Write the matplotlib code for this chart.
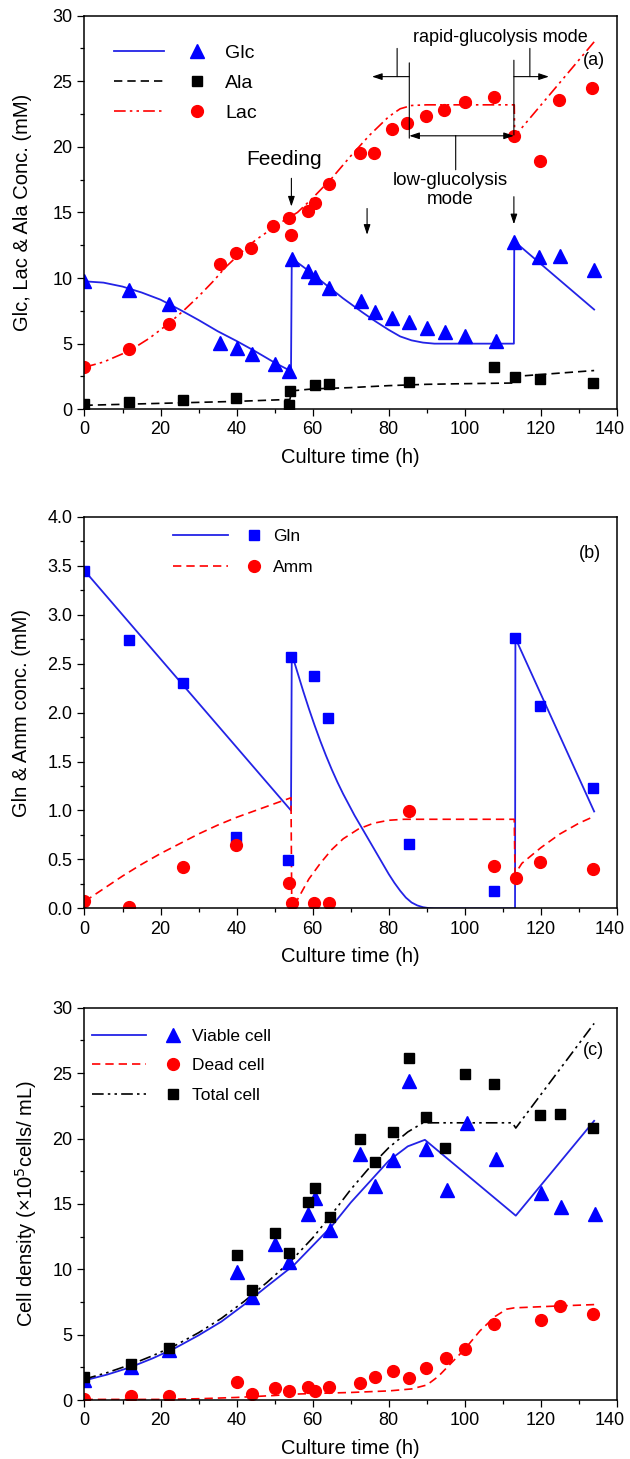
import matplotlib
matplotlib.use('Agg')
import matplotlib.pyplot as plt
from matplotlib.lines import Line2D
from matplotlib.legend_handler import HandlerBase
from matplotlib.ticker import MultipleLocator, FormatStrFormatter
from matplotlib.transforms import ScaledTranslation

plt.rcParams['font.family'] = ['Liberation Sans', 'DejaVu Sans']

# ---------------- Panel (a) data ----------------
glc_t = [0, 11.8, 22.2, 35.7, 40.2, 44.1, 50, 53.9, 54.6, 58.7, 60.6, 64.3, 72.7, 76.4,
         80.9, 85.3, 90.1, 94.9, 100.1, 108.1, 112.9, 119.5, 125, 134]
glc_v = [9.75, 9.1, 8.05, 5.06, 4.68, 4.18, 3.42, 2.91, 11.47, 10.5, 10.1, 9.24, 8.23, 7.42,
         6.99, 6.66, 6.2, 5.85, 5.57, 5.19, 12.78, 11.6, 11.7, 10.6]

ala_t = [0, 11.8, 25.9, 39.9, 53.9, 54.1, 60.5, 64.3, 85.3, 107.6, 113.1, 119.8, 133.7]
ala_v = [0.41, 0.53, 0.71, 0.89, 0.35, 1.37, 1.85, 1.95, 2.1, 3.24, 2.43, 2.3, 1.97]

lac_t = [0, 11.8, 22.2, 35.7, 39.9, 43.9, 49.6, 53.9, 54.4, 58.7, 60.5, 64.3, 72.4, 76.1,
         80.9, 84.9, 89.9, 94.6, 100.1, 107.8, 112.8, 119.8, 124.7, 133.5]
lac_v = [3.24, 4.56, 6.48, 11.09, 11.9, 12.3, 13.93, 14.6, 13.3, 15.12, 15.75, 17.16, 19.52, 19.52,
         21.35, 21.8, 22.36, 22.82, 23.38, 23.83, 20.79, 18.93, 23.58, 24.52]

glc_fit_t = [0, 5, 10, 15, 20, 25, 30, 35, 40, 45, 50, 54.3, 54.5, 58.7, 64.3, 68, 73, 76.5,
             80, 83, 86, 89, 92, 112.9, 113.0, 134]
glc_fit_v = [9.75, 9.65, 9.35, 8.9, 8.35, 7.6, 6.8, 5.95, 5.2, 4.4, 3.55, 2.9, 11.5, 10.6, 9.3,
             8.45, 7.4, 6.7, 6.05, 5.55, 5.25, 5.08, 5.0, 5.0, 12.8, 7.6]

ala_fit_t = [0, 20, 40, 54, 54.5, 60, 70, 80, 90, 100, 113, 113.2, 134]
ala_fit_v = [0.3, 0.45, 0.6, 0.75, 1.4, 1.55, 1.65, 1.8, 1.9, 1.95, 2.0, 2.5, 2.95]

lac_fit_t = [0, 5, 11.8, 17, 22, 26, 30, 34, 37, 41, 45, 49, 52, 56, 60, 65, 70, 75, 80, 83,
             86, 90, 113, 113.1, 134]
lac_fit_v = [3.2, 3.6, 4.45, 5.4, 6.5, 7.5, 8.6, 9.8, 10.8, 11.9, 12.9, 13.7, 14.3, 15.0, 16.1,
             17.6, 19.3, 20.9, 22.3, 22.9, 23.15, 23.2, 23.2, 20.8, 28.0]

# ---------------- Panel (b) data ----------------
gln_t = [0, 11.8, 25.8, 39.8, 53.6, 54.3, 60.4, 64.1, 85.2, 107.8, 113.2, 119.7, 133.8]
gln_v = [3.45, 2.74, 2.30, 0.73, 0.49, 2.57, 2.37, 1.94, 0.66, 0.18, 2.76, 2.07, 1.23]

amm_t = [0, 11.8, 25.8, 39.8, 53.8, 54.5, 60.4, 64.3, 85.2, 107.8, 113.4, 119.7, 133.8]
amm_v = [0.075, 0.017, 0.42, 0.65, 0.26, 0.05, 0.05, 0.05, 0.99, 0.43, 0.31, 0.47, 0.40]

gln_fit_t = [0, 54.3, 54.5, 56, 57.5, 59, 60.5, 62, 63.5, 65, 66.5, 68, 69.5, 71, 72.5, 74,
             75.5, 77, 78.5, 80, 81.5, 83, 84.5, 86, 87.5, 89, 90.5, 92, 113.2, 113.3, 134]
gln_fit_v = [3.45, 1.0, 2.6, 2.41, 2.22, 2.04, 1.87, 1.71, 1.56, 1.42, 1.29, 1.17, 1.06, 0.95,
             0.85, 0.75, 0.65, 0.55, 0.45, 0.35, 0.26, 0.18, 0.11, 0.06, 0.03, 0.012, 0.003,
             0.0, 0.0, 2.76, 0.99]

amm_fit_t = [0, 5, 10, 15, 20, 25, 30, 35, 40, 45, 50, 54.3, 54.5, 56, 59, 62, 65, 68, 72,
             76, 80, 84, 113, 113.2, 115, 120, 125, 130, 134]
amm_fit_v = [0.07, 0.2, 0.33, 0.45, 0.56, 0.66, 0.76, 0.85, 0.93, 1.0, 1.07, 1.13, 0.0, 0.09,
             0.3, 0.46, 0.6, 0.71, 0.81, 0.87, 0.9, 0.91, 0.91, 0.35, 0.46, 0.62, 0.76, 0.87, 0.94]

# ---------------- Panel (c) data ----------------
via_t = [0, 12.1, 22.2, 40.2, 44.1, 50.2, 53.9, 58.8, 60.7, 64.6, 72.5, 76.5, 81, 85.2,
         89.9, 95.2, 100.5, 108.1, 120, 125.4, 134.2]
via_v = [1.53, 2.54, 3.81, 9.79, 7.88, 11.95, 10.55, 14.24, 15.46, 13.02, 18.83, 16.35, 18.32,
         24.4, 19.2, 16.1, 21.15, 18.45, 15.84, 14.75, 14.19]

tot_t = [0, 12.1, 22.2, 40.2, 44.1, 50.2, 53.9, 58.8, 60.7, 64.6, 72.5, 76.5, 81, 85.2,
         89.9, 94.7, 100.1, 107.8, 119.8, 125, 133.7]
tot_v = [1.78, 2.75, 3.99, 11.11, 8.39, 12.79, 11.26, 15.15, 16.2, 13.98, 19.98, 18.19, 20.49,
         26.12, 21.64, 19.26, 24.91, 24.2, 21.77, 21.9, 20.8]

dead_t = [0, 12.1, 22.2, 40.2, 44.1, 50.2, 53.9, 58.8, 60.6, 64.4, 72.5, 76.5, 81, 85.2,
          89.9, 95, 100.1, 107.8, 120, 125, 133.7]
dead_v = [0.1, 0.3, 0.3, 1.4, 0.5, 0.94, 0.71, 0.97, 0.69, 1.02, 1.27, 1.78, 2.21, 1.65,
          2.42, 3.18, 3.89, 5.8, 6.1, 7.17, 6.56]

via_fit_t = [0, 6, 12, 18, 24, 30, 36, 42, 48, 55, 60, 65, 70, 75, 80, 85, 89.5, 113.4, 134]
via_fit_v = [1.5, 1.95, 2.5, 3.2, 4.0, 4.95, 6.0, 7.3, 8.7, 10.3, 11.8, 13.3, 15.1, 16.7,
             18.3, 19.4, 19.9, 14.1, 21.35]

dead_fit_t = [0, 10, 20, 30, 40, 50, 55, 60, 70, 80, 86, 90, 93, 96, 100, 104, 108, 111,
              113, 125, 134]
dead_fit_v = [0.05, 0.05, 0.05, 0.1, 0.2, 0.35, 0.45, 0.5, 0.58, 0.7, 0.85, 1.15, 1.8, 2.7,
              3.9, 5.3, 6.4, 6.95, 7.05, 7.2, 7.3]

tot_fit_t = [0, 6, 12, 18, 24, 30, 36, 42, 48, 54.5, 60, 65, 70, 75, 80, 85, 89, 112.5, 113.4, 134]
tot_fit_v = [1.6, 2.1, 2.7, 3.4, 4.2, 5.15, 6.25, 7.55, 9.0, 10.7, 12.4, 14.2, 16.1, 17.8,
             19.3, 20.5, 21.2, 21.2, 20.8, 28.8]

BLUE = '#0000ff'
LBLUE = '#2323e6'
RED = '#ff0000'
BLACK = '#000000'
DASH = (0, (5, 3))
DASHDOTDOT = (0, (7, 2.5, 1.5, 2.5, 1.5, 2.5))

TICK_FS = 13
LABEL_FS = 14.5


class LineMarkerHandler(HandlerBase):
    def __init__(self, line_frac, marker_frac):
        super().__init__()
        self.lf = line_frac
        self.mf = marker_frac

    def create_artists(self, legend, orig_handle, xdescent, ydescent, width, height,
                       fontsize, trans):
        line, marker = orig_handle
        y = height / 2 - ydescent
        x0 = -xdescent
        ln = Line2D([x0, x0 + width * self.lf], [y, y])
        ln.update_from(line)
        ln.set_marker('None')
        mk = Line2D([x0 + width * self.mf], [y])
        mk.update_from(marker)
        mk.set_linestyle('None')
        ln.set_transform(trans)
        mk.set_transform(trans)
        return [ln, mk]


def style_axis(ax, ymax, ymajor, yminor, yfmt=None):
    ax.set_xlim(0, 140)
    ax.set_ylim(0, ymax)
    ax.xaxis.set_major_locator(MultipleLocator(20))
    ax.xaxis.set_minor_locator(MultipleLocator(10))
    ax.yaxis.set_major_locator(MultipleLocator(ymajor))
    ax.yaxis.set_minor_locator(MultipleLocator(yminor))
    if yfmt:
        ax.yaxis.set_major_formatter(FormatStrFormatter(yfmt))
    ax.tick_params(which='both', direction='out', top=False, right=False, width=0.9)
    ax.tick_params(which='major', length=4.8, pad=4, labelsize=TICK_FS)
    ax.tick_params(which='minor', length=2.8)
    for s in ax.spines.values():
        s.set_linewidth(1.1)
    ax.set_xlabel('Culture time (h)', fontsize=LABEL_FS, labelpad=7)


fig = plt.figure(figsize=(6.3, 14.59), dpi=100)
axA = fig.add_axes([0.1341, 0.7195, 0.8452, 0.2698])
axB = fig.add_axes([0.1341, 0.3774, 0.8452, 0.2684])
axC = fig.add_axes([0.1341, 0.0404, 0.8452, 0.2689])

# ---------------- Panel (a) ----------------
ax = axA
l_glc, = ax.plot(glc_fit_t, glc_fit_v, color=LBLUE, lw=1.3)
l_ala, = ax.plot(ala_fit_t, ala_fit_v, color=BLACK, lw=1.2, linestyle=DASH)
l_lac, = ax.plot(lac_fit_t, lac_fit_v, color=RED, lw=1.2, linestyle=DASHDOTDOT)
m_glc, = ax.plot(glc_t, glc_v, '^', color=BLUE, ms=9.5, ls='none')
m_ala, = ax.plot(ala_t, ala_v, 's', color=BLACK, ms=6.5, ls='none')
m_lac, = ax.plot(lac_t, lac_v, 'o', color=RED, ms=8.5, ls='none')
style_axis(ax, 30, 5, 2.5)
ax.set_ylabel('Glc, Lac & Ala Conc. (mM)', fontsize=LABEL_FS)
ax.yaxis.set_label_coords(-0.098, 0.5)

ax.legend(handles=[(l_glc, m_glc), (l_ala, m_ala), (l_lac, m_lac)],
          labels=['Glc', 'Ala', 'Lac'],
          handler_map={tuple: LineMarkerHandler(0.526, 0.867)},
          loc='upper left', bbox_to_anchor=(0.0563, 0.9266), frameon=False,
          fontsize=14, borderpad=0, borderaxespad=0, handlelength=4.89,
          handletextpad=0.8, labelspacing=0.64)

arrow_kw = dict(arrowstyle='-|>,head_length=0.6,head_width=0.2', color='k', lw=0.8,
                mutation_scale=10, shrinkA=0, shrinkB=0)
line_kw = dict(arrowstyle='-', color='k', lw=0.8, shrinkA=0, shrinkB=0)

ax.text(52.5, 19.06, 'Feeding', fontsize=15, ha='center', va='center')
for xa, y0, y1 in [(54.4, 17.6, 15.45), (74.3, 15.3, 13.3), (112.9, 16.2, 14.1)]:
    ax.annotate('', xy=(xa, y1), xytext=(xa, y0), arrowprops=arrow_kw)

ax.text(109.4, 28.3, 'rapid-glucolysis mode', fontsize=13, ha='center', va='center')
ax.text(96.2, 16.7, 'low-glucolysis\nmode', fontsize=13.5, ha='center', va='center',
        linespacing=1.15)
ax.text(134, 26.6, '(a)', fontsize=13, ha='center', va='center')
# vertical mode boundaries
ax.annotate('', xy=(85.4, 20.66), xytext=(85.4, 26.4), arrowprops=line_kw)
ax.annotate('', xy=(112.9, 20.9), xytext=(112.9, 26.6), arrowprops=line_kw)
# leaders from the rapid label
ax.annotate('', xy=(82.2, 25.35), xytext=(82.2, 27.5), arrowprops=line_kw)
ax.annotate('', xy=(117.1, 25.35), xytext=(117.1, 27.5), arrowprops=line_kw)
ax.annotate('', xy=(75.6, 25.35), xytext=(85.4, 25.35), arrowprops=arrow_kw)
ax.annotate('', xy=(122.1, 25.35), xytext=(112.9, 25.35), arrowprops=arrow_kw)
# low-glucolysis double arrow
ax.annotate('', xy=(85.4, 20.84), xytext=(97.6, 20.84), arrowprops=arrow_kw)
ax.annotate('', xy=(112.9, 20.84), xytext=(97.6, 20.84), arrowprops=arrow_kw)
ax.annotate('', xy=(97.6, 18.25), xytext=(97.6, 20.84), arrowprops=line_kw)

# ---------------- Panel (b) ----------------
ax = axB
l_gln, = ax.plot(gln_fit_t, gln_fit_v, color=LBLUE, lw=1.3)
l_amm, = ax.plot(amm_fit_t, amm_fit_v, color=RED, lw=1.2, linestyle=DASH)
m_gln, = ax.plot(gln_t, gln_v, 's', color=BLUE, ms=7.5, ls='none')
m_amm, = ax.plot(amm_t, amm_v, 'o', color=RED, ms=8.5, ls='none')
style_axis(ax, 4.0, 0.5, 0.25, '%.1f')
ax.set_ylabel('Gln & Amm conc. (mM)', fontsize=LABEL_FS)
ax.yaxis.set_label_coords(-0.1, 0.5)
ax.legend(handles=[(l_gln, m_gln), (l_amm, m_amm)], labels=['Gln', 'Amm'],
          handler_map={tuple: LineMarkerHandler(0.6, 0.887)},
          loc='upper left', bbox_to_anchor=(0.1658, 0.97), frameon=False,
          fontsize=12.5, borderpad=0, borderaxespad=0, handlelength=5.26,
          handletextpad=0.52, labelspacing=0.94)
ax.text(132.9, 3.62, '(b)', fontsize=13, ha='center', va='center')

# ---------------- Panel (c) ----------------
ax = axC
l_via, = ax.plot(via_fit_t, via_fit_v, color=LBLUE, lw=1.3)
l_dead, = ax.plot(dead_fit_t, dead_fit_v, color=RED, lw=1.2, linestyle=DASH)
l_tot, = ax.plot(tot_fit_t, tot_fit_v, color=BLACK, lw=1.2, linestyle=DASHDOTDOT)
m_via, = ax.plot(via_t, via_v, '^', color=BLUE, ms=9.5, ls='none')
m_dead, = ax.plot(dead_t, dead_v, 'o', color=RED, ms=8.5, ls='none')
m_tot, = ax.plot(tot_t, tot_v, 's', color=BLACK, ms=7, ls='none')
style_axis(ax, 30, 5, 2.5)
ax.set_ylabel('Cell density (\u00d710$^{5}$cells/ mL)', fontsize=LABEL_FS)
ax.yaxis.set_label_coords(-0.085, 0.5)
ax.legend(handles=[(l_via, m_via), (l_dead, m_dead), (l_tot, m_tot)],
          labels=['Viable cell', 'Dead cell', 'Total cell'],
          handler_map={tuple: LineMarkerHandler(0.6, 0.887)},
          loc='upper left', bbox_to_anchor=(0.0133, 0.947), frameon=False,
          fontsize=12.5, borderpad=0, borderaxespad=0, handlelength=5.26,
          handletextpad=0.52, labelspacing=0.83)
ax.text(133.7, 26.75, '(c)', fontsize=13, ha='center', va='center')

# keep the last x tick label inside the figure, as in the original
fig.canvas.draw()
for ax in (axA, axB, axC):
    for tk in ax.xaxis.get_major_ticks():
        if abs(tk.get_loc() - 140) < 1e-6:
            lab = tk.label1
            lab.set_transform(lab.get_transform() +
                              ScaledTranslation(-0.07, 0, fig.dpi_scale_trans))

fig.savefig('out.png', dpi=100)
